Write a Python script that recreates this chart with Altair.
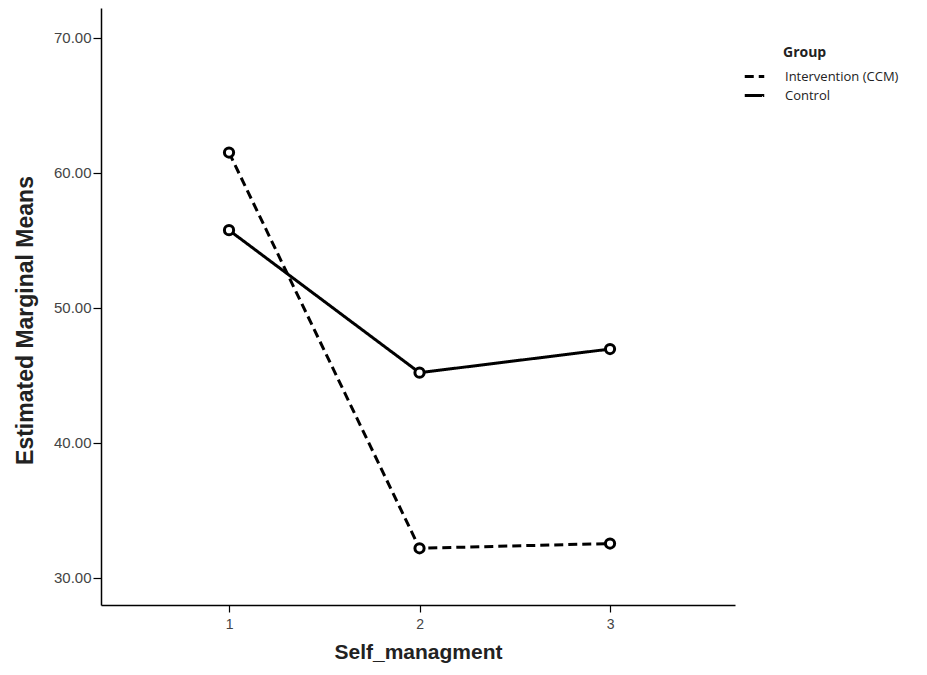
import altair as alt
import pandas as pd

groups = ["Intervention (CCM)", "Control"]
levels = [1, 2, 3]
intervention_means = [61.5, 32.2, 32.55]
control_means = [55.75, 45.2, 46.95]

rows = []
for lv, v in zip(levels, intervention_means):
    rows.append({"Self_managment": lv, "Mean": v, "Group": groups[0]})
for lv, v in zip(levels, control_means):
    rows.append({"Self_managment": lv, "Mean": v, "Group": groups[1]})
df = pd.DataFrame(rows)

title_font = "Liberation Sans, Arial, sans-serif"

x_enc = alt.X(
    "Self_managment:Q",
    scale=alt.Scale(domain=[0.328, 3.656], nice=False, zero=False),
    axis=alt.Axis(values=levels, format="d", title="Self_managment", grid=False,
                  tickSize=7, titlePadding=10, labelPadding=5, labelFontSize=14,
                  titleFontSize=21),
)
y_enc = alt.Y(
    "Mean:Q",
    scale=alt.Scale(domain=[28.0, 72.2], nice=False, zero=False),
    axis=alt.Axis(values=[30, 40, 50, 60, 70], format=".2f", title="Estimated Marginal Means",
                  grid=False, tickSize=8, labelPadding=2, labelFontSize=15,
                  titleFontSize=23,
                  titleX=-76, titleY=312, titleAlign="center", titleBaseline="middle"),
)

dash = alt.StrokeDash(
    "Group:N",
    scale=alt.Scale(domain=groups, range=[[9, 5], [1, 0]]),
    legend=alt.Legend(title=None, orient="none", legendX=642, legendY=57,
                      symbolType="stroke", symbolSize=380, symbolStrokeWidth=3,
                      symbolStrokeColor="black", labelOffset=19, rowPadding=0,
                      labelFont="Open Sans", labelFontSize=13, labelColor="#222",
                      padding=0),
)

lines = alt.Chart(df).mark_line(color="black", strokeWidth=3).encode(
    x=x_enc, y=y_enc, strokeDash=dash, detail="Group:N"
)
points = alt.Chart(df).mark_point(
    shape="circle", filled=True, fill="white", stroke="black", strokeWidth=3, size=85, opacity=1
).encode(x=x_enc, y=y_enc, detail="Group:N")

legend_title = alt.Chart(pd.DataFrame({"t": ["Group"]})).mark_text(
    font="Open Sans", fontSize=14, fontWeight="bold", color="#222", align="left", baseline="middle"
).encode(text="t:N", x=alt.value(682), y=alt.value(45))

chart = alt.layer(lines, points, legend_title).properties(
    width=634, height=597,
    autosize=alt.AutoSizeParams(type="none"),
    padding={"left": 93, "top": 0, "right": 184, "bottom": 62},
).configure_view(stroke=None).configure_axis(
    domainColor="black", domainWidth=1.5, tickColor="black", tickWidth=1.2,
    labelFont="Liberation Sans", labelColor="#444",
    titleFont=title_font, titleFontWeight="bold", titleColor="#222",
)

chart.save("out.html", embed_options={"renderer": "svg", "actions": False})
